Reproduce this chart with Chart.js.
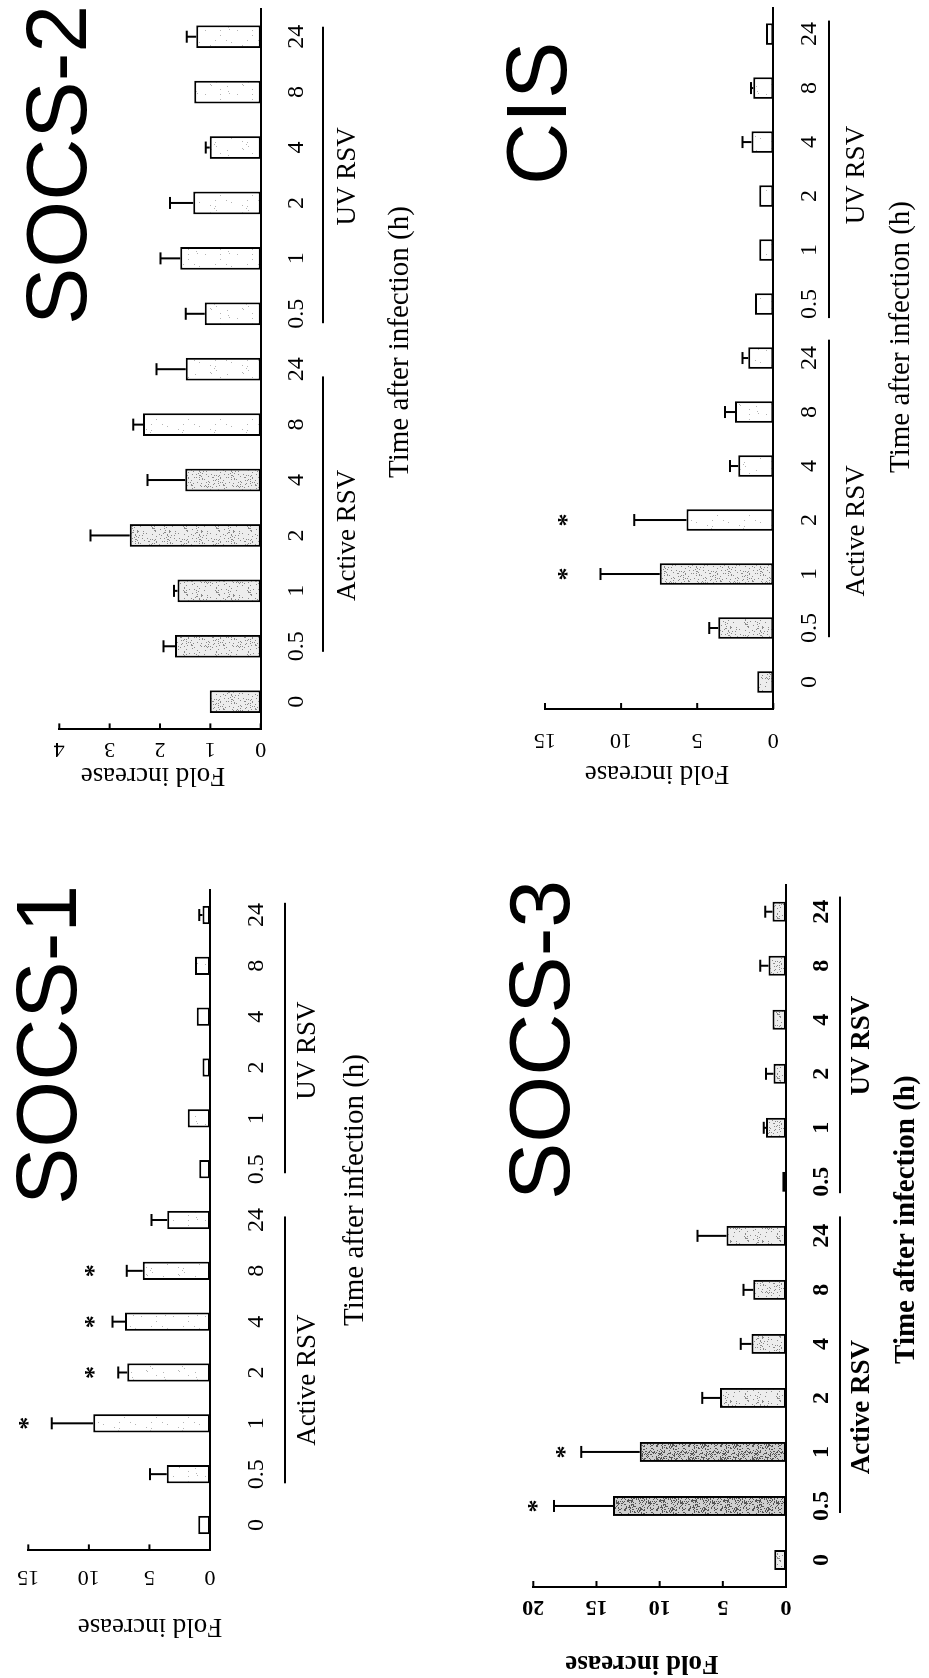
<!DOCTYPE html>
<html>
<head>
<meta charset="utf-8">
<script src="https://cdn.jsdelivr.net/npm/chart.js@4.4.1/dist/chart.umd.min.js"></script>
<style>
html, body { margin: 0; padding: 0; background: #fff; }
body { width: 929px; height: 1678px; position: relative; overflow: hidden; }
/* each panel is drawn upright and turned a quarter turn, like the scanned page */
.panel { position: absolute; transform-origin: 0 0; transform: rotate(-90deg); }
</style>
</head>
<body>
<div class="panel" style="left:0px;top:840px;width:840px;height:465px"><canvas id="socs2" width="840" height="465"></canvas></div>
<div class="panel" style="left:465px;top:840px;width:840px;height:464px"><canvas id="cis" width="840" height="464"></canvas></div>
<div class="panel" style="left:0px;top:1678px;width:838px;height:465px"><canvas id="socs1" width="838" height="465"></canvas></div>
<div class="panel" style="left:465px;top:1678px;width:838px;height:464px"><canvas id="socs3" width="838" height="464"></canvas></div>
<script>
// time after infection (h): active RSV 0..24, then UV RSV 0.5..24
var timeLabels = ['0', '0.5', '1', '2', '4', '8', '24', '0.5', '1', '2', '4', '8', '24'];

// fold increase, +SD error, and where the * marks sit
var socs1Fold  = [0.96, 3.58, 9.63, 6.83, 7.02, 5.56, 3.52, 0.88, 1.84, 0.61, 1.10, 1.24, 0.61];
var socs1Err   = [0, 1.37, 3.44, 0.74, 1.02, 1.32, 1.30, 0, 0, 0, 0, 0, 0.27];
var socs1Stars = [null, null, 15.4, 10.0, 10.0, 10.0, null, null, null, null, null, null, null];

var socs2Fold  = [1.01, 1.70, 1.65, 2.60, 1.50, 2.34, 1.49, 1.11, 1.60, 1.34, 1.01, 1.32, 1.28];
var socs2Err   = [0, 0.23, 0.07, 0.78, 0.75, 0.19, 0.58, 0.38, 0.39, 0.46, 0.08, 0, 0.19];
var socs2Stars = [null, null, null, null, null, null, null, null, null, null, null, null, null];

var socs3Fold  = [0.93, 13.7, 11.58, 5.22, 2.73, 2.60, 4.70, 0.30, 1.59, 0.98, 1.06, 1.38, 1.06];
var socs3Err   = [0, 4.66, 4.62, 1.40, 0.85, 0.76, 2.30, 0, 0.18, 0.61, 0, 0.66, 0.58];
var socs3Stars = [null, 20.1, 17.9, null, null, null, null, null, null, null, null, null, null];

var cisFold  = [1.05, 3.62, 7.46, 5.70, 2.30, 2.52, 1.64, 1.21, 0.92, 0.92, 1.43, 1.32, 0.48];
var cisErr   = [0, 0.59, 3.90, 3.44, 0.55, 0.66, 0.38, 0, 0, 0, 0.59, 0.15, 0];
var cisStars = [null, null, 13.9, 13.9, null, null, null, null, null, null, null, null, null];

// bar shading per bar
var socs1Fill = ['plain','plain','plain','plain','plain','plain','plain','plain','plain','plain','plain','plain','plain'];
var socs2Fill = ['light','light','light','light','light','plain','plain','plain','plain','plain','plain','plain','plain'];
var socs3Fill = ['light','dense','dense','light','light','light','light','light','light','light','light','light','light'];
var cisFill   = ['light','light','light','plain','plain','plain','plain','plain','plain','plain','plain','plain','plain'];

// stipple texture for the bars (fixed hash, so it is the same every time)
function stipple(base, dot, every) {
    var c = document.createElement('canvas');
    c.width = 32; c.height = 32;
    var g = c.getContext('2d');
    g.fillStyle = base;
    g.fillRect(0, 0, 32, 32);
    g.fillStyle = dot;
    for (var y = 0; y < 32; y++) {
        for (var x = 0; x < 32; x++) {
            var h = Math.imul(x + 1, 374761393) ^ Math.imul(y + 7, 668265263);
            h = Math.imul(h ^ (h >>> 13), 1274126177);
            h = (h ^ (h >>> 16)) >>> 0;
            if (h % every === 0) g.fillRect(x, y, 1, 1);
        }
    }
    return g.createPattern(c, 'repeat');
}
var fills = {
    dense: stipple('#cfcfcf', '#555', 4),
    light: stipple('#ededed', '#8a8a8a', 9),
    plain: stipple('#ffffff', '#b5b5b5', 40)
};

var serif = '"Liberation Serif", "Times New Roman", serif';

function makePlugin(p, values, errors, stars) {
    return {
        id: 'panelDecor',
        afterDatasetsDraw: function(chart) {
            var ctx = chart.ctx, xs = chart.scales.x, ys = chart.scales.y;
            ctx.save();
            ctx.strokeStyle = '#000';
            ctx.lineWidth = 2;
            // error bars, upper side only
            values.forEach(function(v, i) {
                if (!errors[i]) return;
                var x = xs.getPixelForValue(i);
                var y0 = ys.getPixelForValue(v);
                var y1 = ys.getPixelForValue(v + errors[i]);
                ctx.beginPath();
                ctx.moveTo(x, y0); ctx.lineTo(x, y1);
                ctx.moveTo(x - p.cap, y1); ctx.lineTo(x + p.cap, y1);
                ctx.stroke();
            });
            // ticks on the value axis point inwards
            ys.ticks.forEach(function(t) {
                var py = ys.getPixelForValue(t.value);
                ctx.beginPath();
                ctx.moveTo(chart.chartArea.left, py);
                ctx.lineTo(chart.chartArea.left + 6, py);
                ctx.stroke();
            });
            // significance marks
            ctx.fillStyle = '#000';
            ctx.font = 'bold 26px ' + serif;
            ctx.textAlign = 'center';
            ctx.textBaseline = 'alphabetic';
            stars.forEach(function(s, i) {
                if (s == null) return;
                ctx.fillText('*', xs.getPixelForValue(i), ys.getPixelForValue(s) + 13);
            });
            ctx.restore();
        },
        afterDraw: function(chart) {
            var ctx = chart.ctx, xs = chart.scales.x;
            ctx.save();
            ctx.fillStyle = '#000';
            ctx.strokeStyle = '#000';
            // big gene name
            ctx.font = '86px "Liberation Sans", Arial, sans-serif';
            ctx.textAlign = 'left';
            ctx.textBaseline = 'alphabetic';
            ctx.fillText(p.title, p.titleU, p.titleV);
            // group underlines
            ctx.lineWidth = 2;
            p.lines.forEach(function(l) {
                ctx.beginPath();
                ctx.moveTo(xs.getPixelForValue(l[0]), p.lineV);
                ctx.lineTo(xs.getPixelForValue(l[1]), p.lineV);
                ctx.stroke();
            });
            ctx.textAlign = 'center';
            ctx.textBaseline = 'middle';
            ctx.font = p.weight + ' 27px ' + serif;
            ctx.fillText('Active RSV', xs.getPixelForValue(p.activeAt), p.groupV);
            ctx.fillText('UV RSV', xs.getPixelForValue(p.uvAt), p.groupV);
            ctx.font = p.weight + ' 29px ' + serif;
            ctx.fillText('Time after infection (h)', xs.getPixelForValue(p.timeAt), p.timeV);
            // value axis title
            ctx.translate(p.foldU, p.foldV);
            ctx.rotate(-Math.PI / 2);
            ctx.font = p.weight + ' 27px ' + serif;
            ctx.fillText('Fold increase', 0, 0);
            ctx.restore();
        }
    };
}

function makeChart(id, values, errors, stars, fill, p) {
    var ctx = document.getElementById(id);
    return new Chart(ctx, {
        type: 'bar',
        data: {
            labels: timeLabels,
            datasets: [{
                data: values,
                backgroundColor: fill.map(function(f) { return fills[f]; }),
                borderColor: '#000',
                borderWidth: 2,
                borderSkipped: false,
                barPercentage: p.barPct,
                categoryPercentage: 1
            }]
        },
        options: {
            responsive: false,
            animation: false,
            layout: { padding: { left: 0, top: p.top, right: p.W - p.right, bottom: 0 } },
            plugins: { legend: { display: false }, tooltip: { enabled: false } },
            scales: {
                x: {
                    grid: { display: false, drawTicks: false },
                    border: { display: true, color: '#000', width: 2 },
                    ticks: { color: '#000', font: { family: serif, size: 24, weight: p.weight }, padding: p.xPad, autoSkip: false, maxRotation: 0 },
                    afterFit: function(s) { s.height = p.H - p.bottom; }
                },
                y: {
                    min: 0,
                    max: p.max,
                    grid: { display: false, drawTicks: false },
                    border: { display: true, color: '#000', width: 2 },
                    ticks: { stepSize: p.step, color: '#000', font: { family: serif, size: 22, weight: p.weight }, padding: p.yPad, minRotation: 90, maxRotation: 90, crossAlign: 'center' },
                    afterFit: function(s) { s.width = p.left; }
                }
            }
        },
        plugins: [makePlugin(p, values, errors, stars)]
    });
}

makeChart('socs2', socs2Fold, socs2Err, socs2Stars, socs2Fill, {
    W: 840, H: 465, left: 110.6, right: 831, top: 59.3, bottom: 260.7, max: 4, step: 1,
    barPct: 0.41, cap: 6, xPad: 22, yPad: 14, weight: 'normal',
    title: 'SOCS-2', titleU: 515, titleV: 86,
    lineV: 323, lines: [[0.9, 5.87], [6.83, 12.18]], groupV: 348, activeAt: 3.0, uvAt: 9.48,
    timeV: 400, timeAt: 6.49, foldU: 65, foldV: 153
});
makeChart('cis', cisFold, cisErr, cisStars, cisFill, {
    W: 840, H: 464, left: 131, right: 838, top: 80, bottom: 308.3, max: 15, step: 5,
    barPct: 0.40, cap: 6, xPad: 22, yPad: 20, weight: 'normal',
    title: 'CIS', titleU: 655, titleV: 101,
    lineV: 364, lines: [[0.83, 6.34], [6.74, 12.25]], groupV: 392, activeAt: 2.8, uvAt: 9.39,
    timeV: 436, timeAt: 6.39, foldU: 67, foldV: 192
});
makeChart('socs1', socs1Fold, socs1Err, socs1Stars, socs1Fill, {
    W: 838, H: 465, left: 127.6, right: 788.4, top: 28.3, bottom: 210, max: 15, step: 5,
    barPct: 0.36, cap: 6, xPad: 32, yPad: 15, weight: 'normal',
    title: 'SOCS-1', titleU: 473, titleV: 76,
    lineV: 285, lines: [[0.82, 6.07], [6.92, 12.24]], groupV: 308, activeAt: 2.85, uvAt: 9.33,
    timeV: 355, timeAt: 6.59, foldU: 52, foldV: 150
});
makeChart('socs3', socs3Fold, socs3Err, socs3Stars, socs3Fill, {
    W: 838, H: 464, left: 91, right: 793.3, top: 68.3, bottom: 321, max: 20, step: 5,
    barPct: 0.37, cap: 6, xPad: 21, yPad: 9, weight: 'bold',
    title: 'SOCS-3', titleU: 478, titleV: 104,
    lineV: 375, lines: [[0.87, 6.36], [6.79, 12.28]], groupV: 397, activeAt: 2.83, uvAt: 9.52,
    timeV: 442, timeAt: 6.3, foldU: 15, foldV: 177
});
</script>
</body>
</html>
